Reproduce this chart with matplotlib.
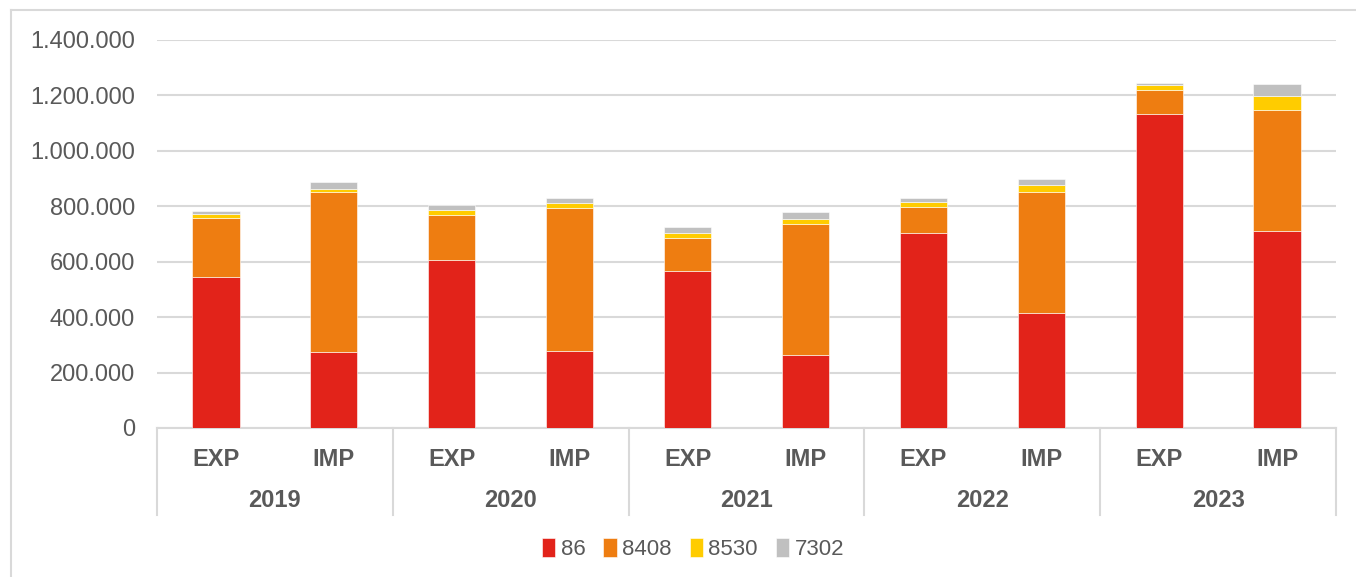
import numpy as np
import matplotlib.pyplot as plt
from matplotlib.lines import Line2D
from matplotlib.ticker import FuncFormatter

plt.rcParams['font.family'] = ['Liberation Sans', 'DejaVu Sans']

years = ['2019', '2020', '2021', '2022', '2023']
flows = ['EXP', 'IMP']
series = ['86', '8408', '8530', '7302']
colors = ['#E2231A', '#EE7D11', '#FFCC00', '#C0C0C0']

# values per bar: 2019 EXP, 2019 IMP, 2020 EXP, ...
v86 = [546000, 274000, 605000, 277000, 565000, 263000, 705000, 415000, 1134000, 711000]
v8408 = [211000, 579000, 165000, 518000, 122000, 474000, 93000, 438000, 87000, 437000]
v8530 = [16000, 11000, 18000, 18000, 17000, 16000, 16000, 24000, 15000, 51000]
v7302 = [10000, 22000, 15000, 18000, 20000, 25000, 16000, 21000, 10000, 41000]

text_col = '#595959'
grid_col = '#D9D9D9'

W, H = 1356, 577
fig = plt.figure(figsize=(W / 100, H / 100), dpi=100)
ax = fig.add_axes([157 / W, 149 / H, (1336 - 157) / W, 388 / H])

x = np.arange(len(v86))
bottom = np.zeros(len(x))
for name, vals, c in zip(series, [v86, v8408, v8530, v7302], colors):
    ax.bar(x, vals, 0.4, bottom=bottom, color=c, label=name, zorder=3,
           edgecolor='white', linewidth=0.4)
    bottom += np.array(vals)

ax.set_xlim(-0.5, len(x) - 0.5)
ax.set_ylim(0, 1400000)
ax.set_yticks(np.arange(0, 1400001, 200000))
ax.yaxis.set_major_formatter(FuncFormatter(lambda v, p: f'{int(v):,}'.replace(',', '.')))
ax.tick_params(axis='y', length=0, pad=16, labelsize=17, labelcolor=text_col)
ax.set_xticks([])
ax.grid(axis='y', color=grid_col, linewidth=1.5, zorder=0)
for s in ['top', 'right', 'left']:
    ax.spines[s].set_visible(False)
ax.spines['bottom'].set_color(grid_col)
ax.spines['bottom'].set_linewidth(1.5)

# two-level category axis
trans = ax.get_xaxis_transform()
for i in x:
    ax.text(i, -0.08, flows[i % 2], transform=trans, ha='center', va='center',
            fontsize=17, fontweight='bold', color=text_col)
for j, yr in enumerate(years):
    ax.text(2 * j + 0.5, -0.188, yr, transform=trans, ha='center', va='center',
            fontsize=17, fontweight='bold', color=text_col)
for j in range(len(years) + 1):
    ax.add_line(Line2D([2 * j - 0.5] * 2, [0, -0.224], transform=trans,
                       color=grid_col, linewidth=1.5, clip_on=False))

# outer chart border
fig.add_artist(Line2D([11 / W, 11 / W], [0, 1 - 10 / H], transform=fig.transFigure,
                      color=grid_col, linewidth=1.5))
fig.add_artist(Line2D([11 / W, 1], [1 - 10 / H, 1 - 10 / H], transform=fig.transFigure,
                      color=grid_col, linewidth=1.5))

fig.legend(loc='center', bbox_to_anchor=(693 / W, 1 - 549 / H), ncol=4, frameon=False,
           fontsize=16, labelcolor=text_col, handlelength=0.6, handleheight=0.9,
           handletextpad=0.25, columnspacing=0.8)

fig.savefig('out.png', dpi=100)
